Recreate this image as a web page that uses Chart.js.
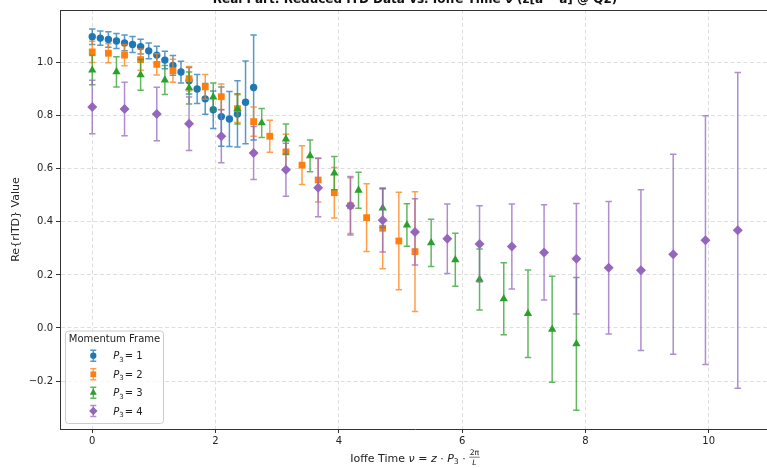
<!DOCTYPE html>
<html lang="en">
  <head>
    <meta charset="UTF-8" />
    <title>Real Part: Reduced ITD Data vs. Ioffe Time</title>
    <script src="https://cdn.jsdelivr.net/npm/chart.js"></script>
    <style>
      html, body { margin: 0; padding: 0; background: #fff; overflow: hidden; }
      #wrap { position: relative; width: 775px; height: 468px; }
    </style>
  </head>
  <body>
    <div id="wrap"><canvas id="itdChart"></canvas></div>

  <script>
    // Ioffe time values for each momentum frame (z = 0..20)
    const nuP1 = [0, 0.131, 0.262, 0.393, 0.524, 0.654, 0.785, 0.916, 1.047, 1.178, 1.309, 1.440, 1.571, 1.702, 1.833, 1.963, 2.094, 2.225, 2.356, 2.487, 2.618];
    const nuP2 = [0, 0.262, 0.524, 0.785, 1.047, 1.309, 1.571, 1.833, 2.094, 2.356, 2.618, 2.880, 3.142, 3.403, 3.665, 3.927, 4.189, 4.451, 4.712, 4.974, 5.236];
    const nuP3 = [0, 0.393, 0.785, 1.178, 1.571, 1.963, 2.356, 2.749, 3.142, 3.534, 3.927, 4.320, 4.712, 5.105, 5.498, 5.890, 6.283, 6.676, 7.069, 7.461, 7.854];
    const nuP4 = [0, 0.524, 1.047, 1.571, 2.094, 2.618, 3.142, 3.665, 4.189, 4.712, 5.236, 5.760, 6.283, 6.807, 7.330, 7.854, 8.378, 8.901, 9.425, 9.948, 10.472];

    // Re{rITD} values
    const reP1 = [1.098, 1.093, 1.088, 1.082, 1.075, 1.069, 1.061, 1.045, 1.029, 1.010, 0.990, 0.965, 0.932, 0.901, 0.864, 0.823, 0.797, 0.788, 0.807, 0.851, 0.907];
    const reP2 = [1.041, 1.036, 1.029, 1.012, 0.994, 0.970, 0.940, 0.909, 0.872, 0.827, 0.778, 0.723, 0.664, 0.614, 0.558, 0.510, 0.461, 0.416, 0.376, 0.328, 0.288];
    const reP3 = [0.972, 0.966, 0.954, 0.935, 0.905, 0.871, 0.826, 0.773, 0.712, 0.649, 0.584, 0.519, 0.452, 0.388, 0.321, 0.257, 0.183, 0.110, 0.054, -0.005, -0.060];
    const reP4 = [0.833, 0.826, 0.807, 0.770, 0.723, 0.660, 0.597, 0.529, 0.461, 0.406, 0.362, 0.336, 0.317, 0.307, 0.285, 0.261, 0.227, 0.218, 0.278, 0.331, 0.368];

    // symmetric errors
    const errP1 = [0.029, 0.027, 0.029, 0.028, 0.030, 0.030, 0.028, 0.030, 0.033, 0.033, 0.037, 0.041, 0.050, 0.055, 0.058, 0.071, 0.112, 0.104, 0.125, 0.156, 0.198];
    const errP2 = [0.040, 0.036, 0.040, 0.040, 0.040, 0.043, 0.046, 0.047, 0.048, 0.052, 0.055, 0.060, 0.066, 0.073, 0.083, 0.095, 0.105, 0.128, 0.153, 0.184, 0.226];
    const errP3 = [0.055, 0.057, 0.058, 0.055, 0.060, 0.053, 0.057, 0.055, 0.057, 0.060, 0.063, 0.068, 0.073, 0.080, 0.089, 0.100, 0.115, 0.136, 0.165, 0.200, 0.250];
    const errP4 = [0.101, 0.101, 0.101, 0.101, 0.100, 0.100, 0.100, 0.110, 0.110, 0.120, 0.125, 0.131, 0.144, 0.160, 0.180, 0.208, 0.250, 0.303, 0.377, 0.469, 0.595];

    const frameLabels = ["1", "2", "3", "4"];
    const xTicks = [0, 2, 4, 6, 8, 10];
    const yTicks = [-0.2, 0, 0.2, 0.4, 0.6, 0.8, 1.0];

    const FONT = '"DejaVu Sans"';
    const series = [
      { nu: nuP1, re: reP1, err: errP1, color: "#1f77b4", bar: "rgba(31,119,180,0.75)", style: "circle", r: 3.7 },
      { nu: nuP2, re: reP2, err: errP2, color: "#ff7f0e", bar: "rgba(255,127,14,0.75)", style: "rect", r: 4.8 },
      { nu: nuP3, re: reP3, err: errP3, color: "#2ca02c", bar: "rgba(44,160,44,0.75)", style: "triangle", r: 4.8 },
      { nu: nuP4, re: reP4, err: errP4, color: "#9467bd", bar: "rgba(148,103,189,0.75)", style: "rectRot", r: 5 },
    ];

    function drawMarker(ctx, style, x, y, r) {
      ctx.beginPath();
      if (style === "circle") {
        ctx.arc(x, y, r, 0, Math.PI * 2);
      } else if (style === "rect") {
        const s = r * Math.SQRT1_2;
        ctx.rect(x - s, y - s, 2 * s, 2 * s);
      } else if (style === "triangle") {
        ctx.moveTo(x, y - r);
        ctx.lineTo(x + r * 0.866, y + r * 0.5);
        ctx.lineTo(x - r * 0.866, y + r * 0.5);
        ctx.closePath();
      } else {
        ctx.moveTo(x, y - r);
        ctx.lineTo(x + r, y);
        ctx.lineTo(x, y + r);
        ctx.lineTo(x - r, y);
        ctx.closePath();
      }
      ctx.fill();
    }

    // vertical error bars with caps, drawn just before each dataset's markers
    const errorBars = {
      id: "errorBars",
      beforeDatasetDraw(chart, args) {
        const ds = chart.data.datasets[args.index];
        const yScale = chart.scales.y;
        const ctx = chart.ctx;
        ctx.save();
        ctx.strokeStyle = ds.barColor;
        ctx.lineWidth = 1.5;
        args.meta.data.forEach((pt, i) => {
          const v = ds.data[i].y;
          const e = ds.errors[i];
          const top = yScale.getPixelForValue(v + e);
          const bot = yScale.getPixelForValue(v - e);
          ctx.beginPath();
          ctx.moveTo(pt.x, top);
          ctx.lineTo(pt.x, bot);
          ctx.moveTo(pt.x - 3.2, top);
          ctx.lineTo(pt.x + 3.2, top);
          ctx.moveTo(pt.x - 3.2, bot);
          ctx.lineTo(pt.x + 3.2, bot);
          ctx.stroke();
        });
        ctx.restore();
      },
    };

    // frame, title, x label and legend
    const decorations = {
      id: "decorations",
      afterDraw(chart) {
        const { ctx, chartArea: a } = chart;
        ctx.save();
        ctx.strokeStyle = "#333";
        ctx.lineWidth = 1;
        ctx.beginPath();
        ctx.moveTo(a.left, a.top + 0.5);
        ctx.lineTo(a.right, a.top + 0.5);
        ctx.lineTo(a.right, a.bottom);
        ctx.stroke();

        const cx = (a.left + a.right) / 2;
        ctx.fillStyle = "#111";
        ctx.textAlign = "center";
        ctx.textBaseline = "alphabetic";
        ctx.font = "bold 12px " + FONT;
        ctx.fillText("Real Part: Reduced ITD Data vs. Ioffe Time \u03bd (z[a\u207b\u00b9\u00b7a] @ Q2)", cx, 3);

        // x axis label with math
        const reg = "11px " + FONT, ita = "oblique 11px " + FONT, small = "7.7px " + FONT, smallI = "oblique 7.7px " + FONT;
        const parts = [
          { t: "Ioffe Time ", f: reg },
          { t: "\u03bd", f: ita },
          { t: " = ", f: reg },
          { t: "z", f: ita },
          { t: " \u00b7 ", f: reg },
          { t: "P", f: ita },
          { t: "3", f: small, dy: 2.7 },
          { t: " \u00b7 ", f: reg },
        ];
        ctx.textAlign = "left";
        let w = 0;
        parts.forEach((p) => { ctx.font = p.f; p.w = ctx.measureText(p.t).width; w += p.w; });
        ctx.font = small;
        const numW = ctx.measureText("2\u03c0").width;
        w += numW + 1;
        let x = cx - w / 2;
        const base = 461.5;
        ctx.fillStyle = "#222";
        parts.forEach((p) => { ctx.font = p.f; ctx.fillText(p.t, x, base + (p.dy || 0)); x += p.w; });
        ctx.textAlign = "center";
        ctx.font = small;
        ctx.fillText("2\u03c0", x + numW / 2 + 0.5, 455);
        ctx.font = smallI;
        ctx.fillText("L", x + numW / 2 + 0.5, 464.8);
        ctx.lineWidth = 0.6;
        ctx.strokeStyle = "#222";
        ctx.beginPath();
        ctx.moveTo(x, 457.2);
        ctx.lineTo(x + numW + 1, 457.2);
        ctx.stroke();

        // legend
        const lx = 65.5, ly = 331, lw = 98, lh = 92.5, rad = 3;
        ctx.beginPath();
        ctx.moveTo(lx + rad, ly);
        ctx.arcTo(lx + lw, ly, lx + lw, ly + lh, rad);
        ctx.arcTo(lx + lw, ly + lh, lx, ly + lh, rad);
        ctx.arcTo(lx, ly + lh, lx, ly, rad);
        ctx.arcTo(lx, ly, lx + lw, ly, rad);
        ctx.closePath();
        ctx.fillStyle = "rgba(255,255,255,0.8)";
        ctx.fill();
        ctx.strokeStyle = "#cccccc";
        ctx.lineWidth = 1;
        ctx.stroke();

        const lreg = "10px " + FONT, lita = "oblique 10px " + FONT, lsmall = "7px " + FONT;
        ctx.fillStyle = "#222";
        ctx.textAlign = "center";
        ctx.textBaseline = "middle";
        ctx.font = lreg;
        ctx.fillText("Momentum Frame", lx + lw / 2, 339.5);

        const rows = [355.7, 374.3, 392.7, 411];
        series.forEach((s, i) => {
          const my = rows[i], mx = 93.3;
          ctx.strokeStyle = s.bar;
          ctx.lineWidth = 1.4;
          ctx.beginPath();
          ctx.moveTo(mx, my - 5.5); ctx.lineTo(mx, my + 5.5);
          ctx.moveTo(mx - 3, my - 5.5); ctx.lineTo(mx + 3, my - 5.5);
          ctx.moveTo(mx - 3, my + 5.5); ctx.lineTo(mx + 3, my + 5.5);
          ctx.stroke();
          ctx.fillStyle = s.color;
          drawMarker(ctx, s.style, mx, my, s.r * 0.85);

          ctx.fillStyle = "#222";
          ctx.textAlign = "left";
          ctx.textBaseline = "alphabetic";
          let tx = 113.3;
          const b = my + 3.6;
          ctx.font = lita; ctx.fillText("P", tx, b); tx += ctx.measureText("P").width;
          ctx.font = lsmall; ctx.fillText("3", tx, b + 2.5); tx += ctx.measureText("3").width + 1;
          ctx.font = lreg; ctx.fillText("= " + frameLabels[i], tx, b);
        });
        ctx.restore();
      },
    };

    const datasets = series.map((s, i) => ({
      label: "P3 = " + frameLabels[i],
      data: s.nu.map((v, k) => ({ x: v, y: s.re[k] })),
      errors: s.err,
      barColor: s.bar,
      backgroundColor: s.color,
      borderColor: s.color,
      borderWidth: 0,
      pointStyle: s.style,
      pointRadius: s.r,
      pointHoverRadius: s.r,
      showLine: false,
      order: 4 - i,
    }));

    Chart.defaults.font.family = FONT;
    Chart.defaults.font.size = 10;
    Chart.defaults.color = "#222";

    new Chart(document.getElementById("itdChart"), {
      type: "scatter",
      data: { datasets },
      options: {
        responsive: true,
        maintainAspectRatio: false,
        animation: false,
        layout: { padding: { top: 10, right: 3, left: 0, bottom: 0 } },
        plugins: { legend: { display: false }, tooltip: { enabled: false } },
        scales: {
          x: {
            type: "linear",
            min: -0.523,
            max: 10.995,
            afterBuildTicks: (axis) => { axis.ticks = xTicks.map((v) => ({ value: v })); },
            afterFit: (scale) => { scale.height = 39; },
            ticks: { padding: 2, maxRotation: 0, callback: (v) => String(v) },
            grid: { color: "rgba(185,185,185,0.6)", lineWidth: 0.8, tickColor: "#333", tickLength: 4, tickWidth: 1 },
            border: { color: "#333", width: 1, dash: [4, 2.5] },
          },
          y: {
            type: "linear",
            min: -0.381,
            max: 1.199,
            afterBuildTicks: (axis) => { axis.ticks = yTicks.map((v) => ({ value: v })); },
            afterFit: (scale) => { scale.width = 60; },
            ticks: { padding: 3, callback: (v) => v.toFixed(1).replace("-", "\u2212") },
            grid: { color: "rgba(185,185,185,0.6)", lineWidth: 0.8, tickColor: "#333", tickLength: 4, tickWidth: 1 },
            border: { color: "#333", width: 1, dash: [4, 2.5] },
            title: { display: true, text: "Re{rITD} Value", font: { size: 11 }, padding: { top: 10, bottom: 0 } },
          },
        },
      },
      plugins: [errorBars, decorations],
    });
  </script>
  </body>
</html>
